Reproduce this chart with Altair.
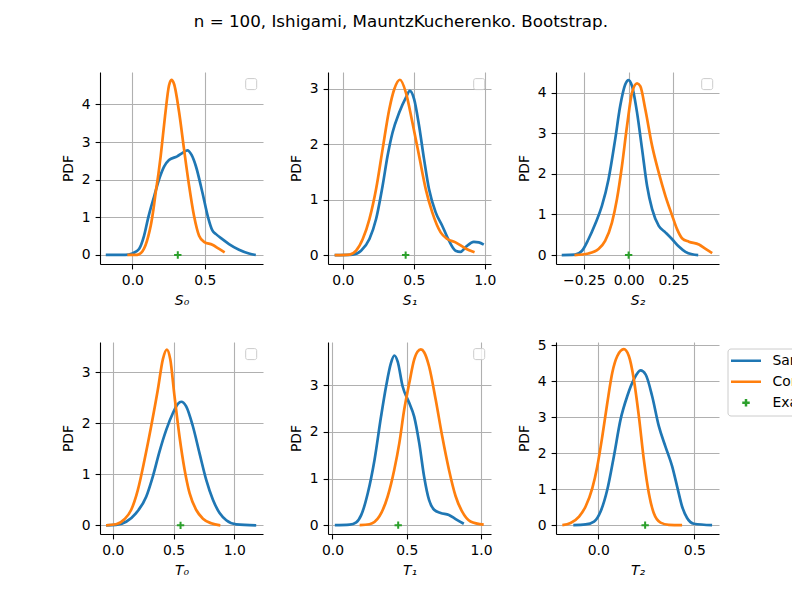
import altair as alt
import pandas as pd

BLUE = "#1f77b4"
ORANGE = "#ff7f0e"
GREEN = "#2ca02c"
SERIES = ["Sample", "Computed", "Exact"]
COLORS = [BLUE, ORANGE, GREEN]
PLUS = "M-0.25,0H0.25M0,-0.25V0.25"
SHAPES = ["stroke", "stroke", PLUS]

TITLES = ["S\u2080", "S\u2081", "S\u2082", "T\u2080", "T\u2081", "T\u2082"]
EXACT = [0.3139, 0.4424, 0.0, 0.5576, 0.4424, 0.2437]

# ---- S0
s0_sample_x = [-0.184, -0.05, 0.0, 0.046, 0.08, 0.11, 0.15, 0.184, 0.22, 0.253, 0.31, 0.35, 0.38, 0.41,
               0.438, 0.484, 0.523, 0.553, 0.576, 0.622, 0.668, 0.737, 0.806, 0.853]
s0_sample_y = [0.0, 0.0, 0.04, 0.16, 0.5, 1.0, 1.55, 2.0, 2.35, 2.52, 2.62, 2.72, 2.78, 2.65,
               2.37, 1.66, 1.0, 0.65, 0.56, 0.42, 0.29, 0.14, 0.04, 0.0]
s0_comp_x = [-0.035, 0.02, 0.046, 0.07, 0.09, 0.11, 0.127, 0.145, 0.161, 0.18, 0.196, 0.226, 0.253, 0.27,
             0.288, 0.323, 0.357, 0.392, 0.426, 0.461, 0.495, 0.553, 0.6, 0.638]
s0_comp_y = [0.0, 0.0, 0.02, 0.1, 0.25, 0.5, 0.78, 1.2, 1.66, 2.15, 2.64, 3.7, 4.5, 4.65,
             4.54, 3.79, 2.81, 1.84, 1.04, 0.51, 0.35, 0.27, 0.16, 0.07]
# ---- S1
s1_sample_x = [-0.058, 0.07, 0.128, 0.187, 0.234, 0.28, 0.315, 0.35, 0.397, 0.444, 0.472, 0.502, 0.537,
               0.572, 0.607, 0.654, 0.7, 0.748, 0.794, 0.829, 0.864, 0.923, 0.958, 0.993]
s1_sample_y = [0.0, 0.01, 0.08, 0.29, 0.65, 1.25, 1.79, 2.21, 2.57, 2.84, 2.96, 2.81, 2.33,
               1.73, 1.19, 0.77, 0.53, 0.26, 0.08, 0.06, 0.14, 0.24, 0.23, 0.19]
s1_comp_x = [-0.058, 0.047, 0.093, 0.14, 0.187, 0.234, 0.28, 0.327, 0.362, 0.402, 0.444, 0.49, 0.537,
             0.584, 0.63, 0.689, 0.736, 0.794, 0.864, 0.928]
s1_comp_y = [0.0, 0.01, 0.08, 0.29, 0.65, 1.19, 1.91, 2.63, 2.99, 3.16, 2.93, 2.39, 1.79,
             1.19, 0.77, 0.41, 0.29, 0.23, 0.12, 0.05]
# ---- S2
s2_sample_x = [-0.373, -0.299, -0.261, -0.224, -0.187, -0.149, -0.112, -0.075, -0.047, -0.019, 0.0, 0.019,
               0.047, 0.075, 0.103, 0.131, 0.168, 0.205, 0.243, 0.28, 0.317, 0.354, 0.388]
s2_sample_y = [0.0, 0.01, 0.1, 0.39, 0.76, 1.21, 1.87, 2.85, 3.67, 4.2, 4.31, 4.16,
               3.51, 2.61, 1.7, 1.13, 0.72, 0.56, 0.39, 0.21, 0.08, 0.02, 0.0]
s2_comp_x = [-0.302, -0.224, -0.168, -0.131, -0.093, -0.065, -0.037, -0.009, 0.019, 0.047, 0.065, 0.093,
             0.131, 0.168, 0.205, 0.243, 0.27, 0.299, 0.336, 0.392, 0.429, 0.466]
s2_comp_y = [0.0, 0.04, 0.15, 0.35, 0.8, 1.38, 2.2, 3.18, 4.0, 4.23, 4.16, 3.59,
             2.69, 2.03, 1.46, 0.97, 0.64, 0.41, 0.33, 0.26, 0.15, 0.05]
# ---- T0
t0_sample_x = [-0.055, 0.027, 0.11, 0.192, 0.275, 0.33, 0.385, 0.44, 0.495, 0.536, 0.563, 0.604, 0.659,
               0.714, 0.769, 0.824, 0.879, 0.934, 1.016, 1.18]
t0_sample_y = [0.0, 0.01, 0.07, 0.24, 0.56, 0.96, 1.45, 1.87, 2.2, 2.38, 2.42, 2.33, 1.94,
               1.41, 0.89, 0.5, 0.24, 0.1, 0.02, 0.0]
t0_comp_x = [-0.055, 0.027, 0.096, 0.151, 0.206, 0.261, 0.316, 0.371, 0.412, 0.445, 0.473, 0.508, 0.549,
             0.591, 0.632, 0.687, 0.742, 0.81, 0.885]
t0_comp_y = [0.0, 0.02, 0.12, 0.3, 0.69, 1.28, 1.94, 2.66, 3.25, 3.44, 3.25, 2.53, 1.74,
             1.09, 0.63, 0.3, 0.13, 0.04, 0.0]
# ---- T1
t1_sample_x = [0.016, 0.116, 0.16, 0.194, 0.238, 0.283, 0.327, 0.361, 0.394, 0.416, 0.439, 0.472, 0.517,
               0.55, 0.584, 0.617, 0.65, 0.684, 0.728, 0.784, 0.829, 0.884]
t1_sample_y = [0.0, 0.01, 0.06, 0.22, 0.69, 1.4, 2.33, 2.98, 3.48, 3.64, 3.51, 2.98, 2.62,
               2.33, 1.76, 1.04, 0.54, 0.33, 0.26, 0.22, 0.13, 0.03]
t1_comp_x = [0.183, 0.249, 0.316, 0.372, 0.416, 0.45, 0.483, 0.517, 0.55, 0.572, 0.595, 0.617, 0.65,
             0.695, 0.739, 0.784, 0.829, 0.873, 0.929, 1.018]
t1_comp_y = [0.0, 0.02, 0.19, 0.62, 1.19, 1.76, 2.48, 3.05, 3.55, 3.72, 3.77, 3.71, 3.41,
             2.69, 1.9, 1.19, 0.62, 0.29, 0.08, 0.01]
# ---- T2
t2_sample_x = [-0.13, -0.066, -0.022, 0.012, 0.047, 0.081, 0.116, 0.151, 0.185, 0.22, 0.246, 0.28, 0.315,
               0.349, 0.384, 0.41, 0.436, 0.462, 0.497, 0.592]
t2_sample_y = [0.0, 0.02, 0.1, 0.38, 0.99, 1.91, 2.94, 3.59, 4.05, 4.3, 4.19, 3.59, 2.75,
               2.19, 1.64, 1.08, 0.52, 0.2, 0.04, 0.0]
t2_comp_x = [-0.187, -0.144, -0.1, -0.066, -0.031, -0.005, 0.021, 0.047, 0.073, 0.099, 0.133, 0.159, 0.185,
             0.211, 0.237, 0.263, 0.289, 0.324, 0.367, 0.436]
t2_comp_y = [0.0, 0.06, 0.24, 0.52, 1.03, 1.64, 2.47, 3.4, 4.24, 4.7, 4.89, 4.7, 4.05,
             3.03, 1.82, 0.89, 0.33, 0.07, 0.01, 0.0]

SAMPLE = [(s0_sample_x, s0_sample_y), (s1_sample_x, s1_sample_y), (s2_sample_x, s2_sample_y),
          (t0_sample_x, t0_sample_y), (t1_sample_x, t1_sample_y), (t2_sample_x, t2_sample_y)]
COMPUTED = [(s0_comp_x, s0_comp_y), (s1_comp_x, s1_comp_y), (s2_comp_x, s2_comp_y),
            (t0_comp_x, t0_comp_y), (t1_comp_x, t1_comp_y), (t2_comp_x, t2_comp_y)]

X_DOMAINS = [[-0.224, 0.903], [-0.105, 1.044], [-0.405, 0.504],
             [-0.105, 1.236], [-0.03, 1.067], [-0.22, 0.628]]
X_TICKS = [[0.0, 0.5], [0.0, 0.5, 1.0], [-0.25, 0.0, 0.25],
           [0.0, 0.5, 1.0], [0.0, 0.5, 1.0], [0.0, 0.5]]
X_FMT = [".1f", ".1f", ".2f", ".1f", ".1f", ".1f"]
Y_DOMAINS = [[-0.24, 4.86], [-0.16, 3.30], [-0.22, 4.51],
             [-0.17, 3.59], [-0.19, 3.93], [-0.245, 5.09]]
Y_TICKS = [[0, 1, 2, 3, 4], [0, 1, 2, 3], [0, 1, 2, 3, 4],
           [0, 1, 2, 3], [0, 1, 2, 3], [0, 1, 2, 3, 4, 5]]

W, H = 163, 192
FONT = "DejaVu Sans"


def panel(k):
    rows = []
    for name, (xs, ys) in (("Sample", SAMPLE[k]), ("Computed", COMPUTED[k])):
        for i, (a, b) in enumerate(zip(xs, ys)):
            rows.append({"x": a, "y": b, "series": name, "i": i})
    df_lines = pd.DataFrame(rows)
    df_exact = pd.DataFrame({"x": [EXACT[k]], "y": [0.0], "series": ["Exact"]})

    xenc = alt.X("x:Q", scale=alt.Scale(domain=X_DOMAINS[k], nice=False, zero=False),
                 axis=alt.Axis(values=X_TICKS[k], format=X_FMT[k], title=TITLES[k],
                               titleFontStyle="italic"))
    yenc = alt.Y("y:Q", scale=alt.Scale(domain=Y_DOMAINS[k], nice=False, zero=False),
                 axis=alt.Axis(values=Y_TICKS[k], format="d", title="PDF"))
    show = k == 5
    if show:
        leg = alt.Legend(title=None, orient="none", legendX=W + 8.5, legendY=6.5,
                         symbolSize=900, symbolStrokeWidth=2.5, clipHeight=20.6,
                         labelFontSize=13.9, labelFont=FONT, labelColor="black",
                         labelOffset=10, padding=2, rowPadding=0, strokeColor="#cccccc",
                         fillColor="white", cornerRadius=3)
        color = alt.Color("series:N", scale=alt.Scale(domain=SERIES, range=COLORS), legend=leg)
        shape = alt.Shape("series:N", scale=alt.Scale(domain=SERIES, range=SHAPES), legend=leg)
    else:
        color = alt.Color("series:N", scale=alt.Scale(domain=SERIES, range=COLORS), legend=None)
        shape = alt.Shape("series:N", scale=alt.Scale(domain=SERIES, range=SHAPES), legend=None)

    lines = alt.Chart(df_lines).mark_line(strokeWidth=2.7, interpolate="monotone").encode(
        x=xenc, y=yenc, color=color, order="i:Q")
    pts = alt.Chart(df_exact).mark_point(filled=False, size=870, strokeWidth=2, opacity=1).encode(
        x=xenc, y=yenc, color=color, shape=shape)
    layers = [lines, pts]
    if not show:
        box = alt.Chart(pd.DataFrame({"a": [0]})).mark_rect(
            fill="white", fillOpacity=0.8, stroke="#cccccc", strokeWidth=1, cornerRadius=2).encode(
            x=alt.value(W - 17.3), x2=alt.value(W - 6.3), y=alt.value(6.6), y2=alt.value(17.6))
        layers.append(box)
    return alt.layer(*layers).properties(width=W, height=H)


panels = [panel(k) for k in range(6)]

chart = alt.concat(*panels, columns=3, spacing={"row": 78, "column": 65}, bounds="flush").resolve_scale(
    color="independent", shape="independent"
).properties(
    title=alt.TitleParams(text="n = 100, Ishigami, MauntzKucherenko. Bootstrap.", fontSize=16.7,
                          font=FONT, fontWeight="normal", color="black", anchor="middle",
                          baseline="alphabetic", offset=28.7, dx=-54),
    padding={"left": 53, "top": 5, "right": -56, "bottom": 0},
).configure_view(stroke=None).configure_axis(
    domainColor="black", domainWidth=1.1, tickColor="black", tickSize=4.9, tickWidth=1.1,
    gridColor="#b0b0b0", gridWidth=1.1, labelFontSize=13.9, labelFont=FONT, labelColor="black",
    labelPadding=4.9, labelFlush=False, titleFontSize=13.9, titleFont=FONT, titleColor="black",
    titleFontWeight="normal", titlePadding=5.6
).configure_legend(labelFont=FONT)

chart.save("out.html", embed_options={"renderer": "svg", "actions": False})
